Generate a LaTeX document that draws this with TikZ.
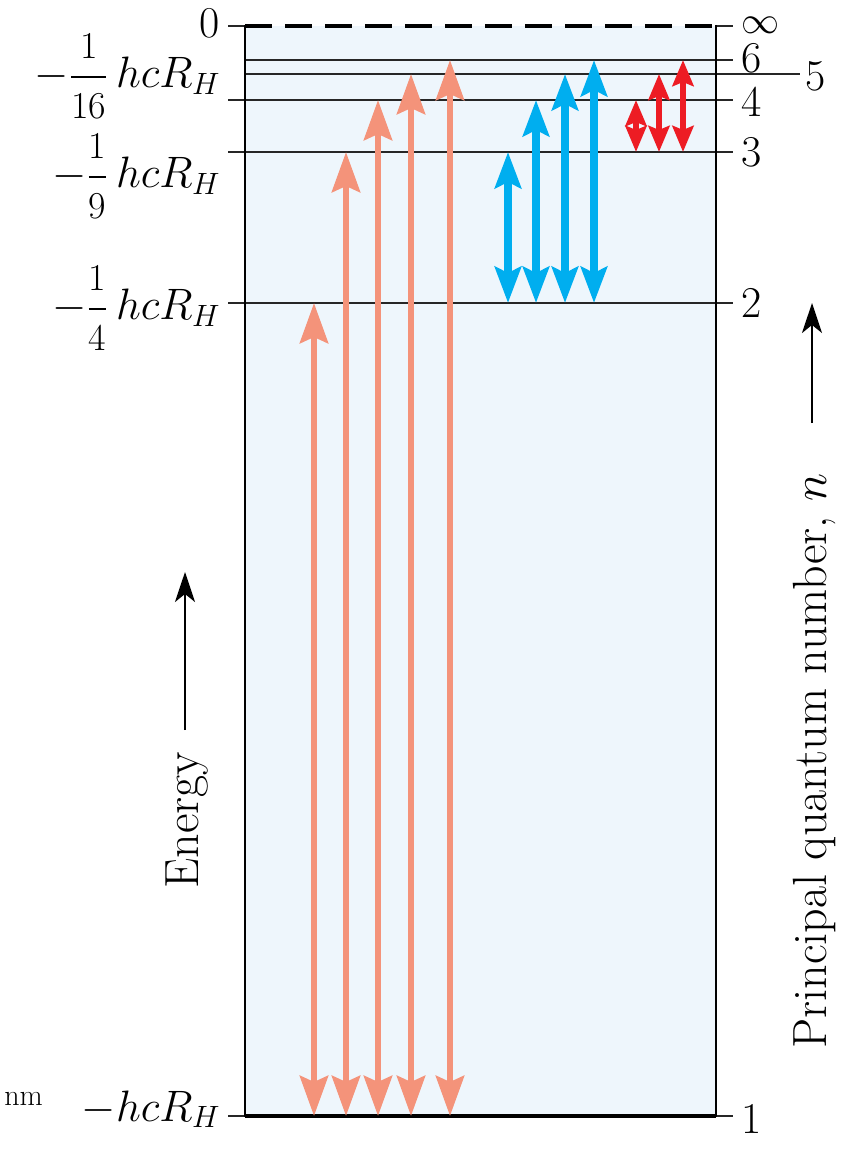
\RequirePackage{fix-cm}
\documentclass[tikz,border=0pt]{standalone}
\usepackage{amsmath}
\usetikzlibrary{arrows.meta}
\definecolor{bgblue}{RGB}{238,246,252}
\definecolor{salmon}{RGB}{244,147,122}
\definecolor{cyanb}{RGB}{0,174,239}
\definecolor{redb}{RGB}{237,28,36}
\newcommand\smfrac[2]{\dfrac{\text{\fontsize{19}{21}\selectfont #1}}{\text{\fontsize{19}{21}\selectfont #2}}}
\begin{document}
\begin{tikzpicture}[x=0.5pt,y=-0.5pt,
  lvl/.style={line width=0.85pt,black!85},
  lab/.style={inner sep=0pt,font=\fontsize{22}{26}\selectfont},
  axlab/.style={inner sep=0pt,font=\fontsize{24}{28}\selectfont},
  lyman/.style={salmon,line width=3.4pt,{Stealth[length=20pt,width=14pt,inset=3pt]}-{Stealth[length=20pt,width=14pt,inset=3pt]}},
  balmer/.style={cyanb,line width=3.8pt,{Stealth[length=18pt,width=13pt,inset=3pt]}-{Stealth[length=18pt,width=13pt,inset=3pt]}},
  paschen/.style={redb,line width=3.2pt,{Stealth[length=13pt,width=10.5pt,inset=2pt]}-{Stealth[length=13pt,width=10.5pt,inset=2pt]}},
  axarrow/.style={black,line width=0.9pt,-{Stealth[length=15pt,width=10pt,inset=4pt]}}
]
\useasboundingbox (0,0) rectangle (842,1149);
% background box
\fill[bgblue] (245,26) rectangle (716,1116);
% level lines
\draw[lvl] (245,60) -- (733,60);
\draw[lvl] (245,74) -- (800,74);
\draw[lvl] (228,100) -- (733,100);
\draw[lvl] (228,152) -- (733,152);
\draw[lvl] (228,303) -- (733,303);
\draw[lvl] (228,26) -- (245,26);
\draw[lvl] (716,26) -- (733,26);
\draw[lvl] (228,1116) -- (733,1116);
\draw[line width=1.8pt] (245,1116) -- (716,1116);
\draw[line width=2pt,dash pattern=on 13.5pt off 6.5pt] (245,26) -- (716,26);
\draw[line width=1pt] (245,25) -- (245,1117);
\draw[line width=0.8pt] (716,25) -- (716,1117);
% Lyman series
\foreach \i/\x/\y in {2/314/303,3/346/152,4/378/100,5/411/74,6/450/60}{
  \coordinate (Ly\i b) at (\x,1116);
  \coordinate (Ly\i t) at (\x,\y);
  \draw[lyman] (Ly\i b) -- (Ly\i t);
}
% Balmer series
\foreach \i/\x/\y in {3/508/152,4/536/100,5/565/74,6/594/60}{
  \coordinate (Ba\i b) at (\x,303);
  \coordinate (Ba\i t) at (\x,\y);
  \draw[balmer] (Ba\i b) -- (Ba\i t);
}
% Paschen series
\foreach \i/\x/\y in {4/636/100,5/659/74,6/683/60}{
  \coordinate (Pa\i b) at (\x,152);
  \coordinate (Pa\i t) at (\x,\y);
  \draw[paschen] (Pa\i b) -- (Pa\i t);
}
% right labels
\node[inner sep=0pt,anchor=west,font=\fontsize{19}{22}\selectfont] (ninf) at (741,25) {$\infty$};
\node[lab,anchor=west] (n6) at (741,58) {6};
\node[lab,anchor=west] (n5) at (805,76) {5};
\node[lab,anchor=west] (n4) at (741,102) {4};
\node[lab,anchor=west] (n3) at (741,152) {3};
\node[lab,anchor=west] (n2) at (741,303) {2};
\node[lab,anchor=west] (n1) at (741,1119) {1};
% left labels
\node[lab,anchor=base east] (e0) at (220,38) {0};
\node[lab,anchor=base east] (e4) at (221,88) {$-\smfrac{1}{16}\,hcR_H$};
\node[lab,anchor=base east] (e3) at (221,188) {$-\smfrac{1}{9}\,hcR_H$};
\node[lab,anchor=base east] (e2) at (221,320) {$-\smfrac{1}{4}\,hcR_H$};
\node[lab,anchor=base east] (e1) at (221,1121) {$-hcR_H$};
\node[inner sep=0pt,anchor=base west,font=\fontsize{15}{17}\selectfont] (nm) at (4,1105) {nm};
% axis arrows and titles
\coordinate (Ea) at (185,730);
\coordinate (Eb) at (185,572);
\draw[axarrow] (Ea) -- (Eb);
\node[axlab,rotate=90] (energy) at (187,820) {Energy};
\coordinate (Pa) at (812,423);
\coordinate (Pb) at (812,303);
\draw[axarrow] (Pa) -- (Pb);
\node[axlab,rotate=90] (pqn) at (815,761) {Principal quantum number, $n$};
\end{tikzpicture}
\end{document}
